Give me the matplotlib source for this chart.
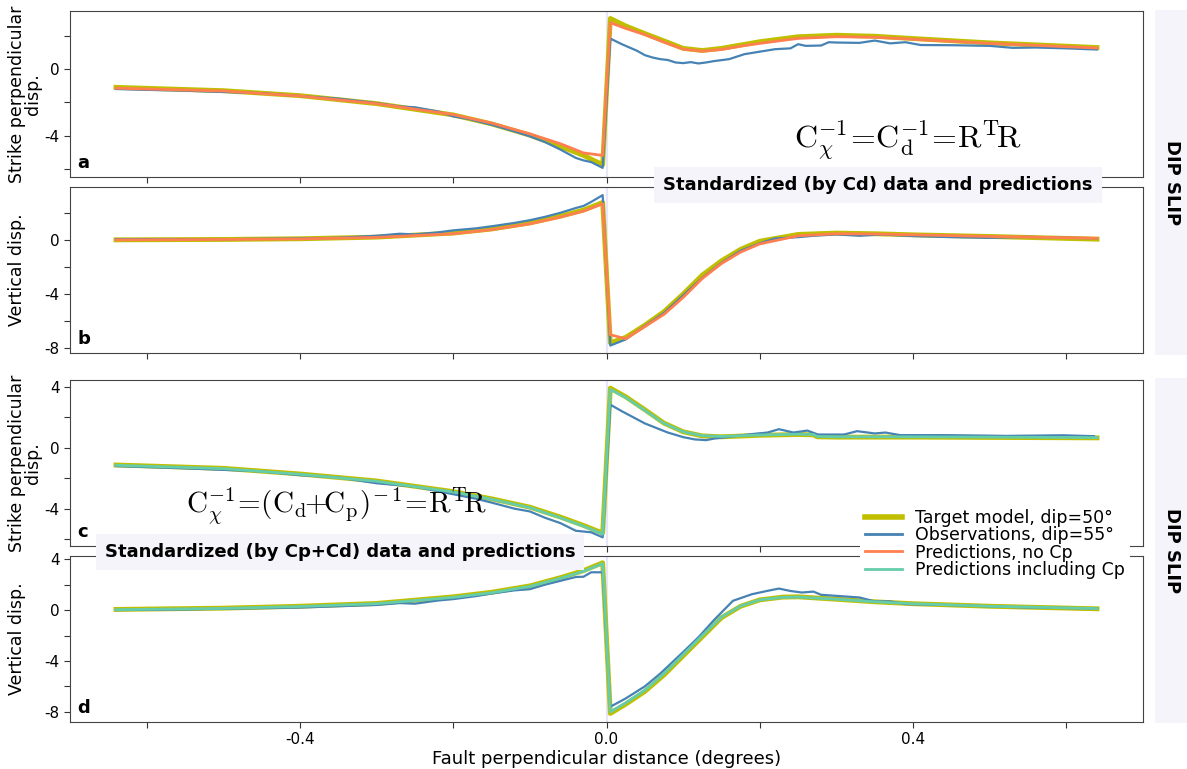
import matplotlib
matplotlib.use("Agg")
import matplotlib.pyplot as plt
from matplotlib.ticker import MultipleLocator
from matplotlib.patches import Rectangle

plt.rcParams['axes.unicode_minus'] = False
plt.rcParams['mathtext.fontset'] = 'cm'

# ---- data ----
# smooth model curves share one grid
x_mod = [-0.64, -0.5, -0.4, -0.3, -0.2, -0.15, -0.1, -0.06, -0.03, -0.005,
         0.005, 0.025, 0.05, 0.075, 0.1, 0.125, 0.15, 0.175, 0.2, 0.25,
         0.3, 0.35, 0.4, 0.5, 0.64]

# panel a: strike perpendicular, standardized by Cd
a_target = [-1.1, -1.3, -1.6, -2.08, -2.76, -3.3, -3.98, -4.66, -5.2, -5.76,
            3.05, 2.6, 2.14, 1.7, 1.25, 1.12, 1.25, 1.45, 1.65, 1.95,
            2.04, 1.98, 1.84, 1.58, 1.3]
a_nocp = [-1.15, -1.32, -1.62, -2.08, -2.74, -3.25, -3.9, -4.5, -5.05, -5.2,
          2.8, 2.45, 2.08, 1.62, 1.2, 1.08, 1.18, 1.38, 1.55, 1.85,
          1.95, 1.92, 1.8, 1.55, 1.27]
x_obs_a = [-0.64, -0.6, -0.55, -0.5, -0.45, -0.4, -0.35, -0.3, -0.27, -0.25,
           -0.22, -0.2, -0.18, -0.15, -0.12, -0.1, -0.08, -0.06, -0.04, -0.03,
           -0.02, -0.005, 0.005, 0.02, 0.04, 0.05, 0.06, 0.07, 0.08, 0.09,
           0.1, 0.11, 0.12, 0.13, 0.14, 0.16, 0.18, 0.2, 0.22, 0.24,
           0.25, 0.26, 0.28, 0.29, 0.3, 0.33, 0.35, 0.37, 0.39, 0.41,
           0.45, 0.5, 0.53, 0.56, 0.6, 0.64]
a_obs = [-1.2, -1.25, -1.3, -1.38, -1.45, -1.62, -1.78, -2.05, -2.25, -2.3,
         -2.55, -2.85, -3.0, -3.35, -3.75, -4.05, -4.4, -4.85, -5.35, -5.5,
         -5.6, -5.95, 1.84, 1.5, 1.1, 0.84, 0.7, 0.6, 0.55, 0.4,
         0.36, 0.42, 0.34, 0.4, 0.48, 0.6, 0.9, 1.05, 1.2, 1.25,
         1.5, 1.4, 1.42, 1.62, 1.6, 1.58, 1.72, 1.55, 1.62, 1.45,
         1.44, 1.4, 1.28, 1.3, 1.25, 1.18]

# panel b: vertical, standardized by Cd
b_target = [0.0, 0.03, 0.08, 0.2, 0.5, 0.8, 1.25, 1.75, 2.2, 2.76,
            -7.6, -7.2, -6.3, -5.3, -4.0, -2.6, -1.55, -0.7, -0.1, 0.4,
            0.5, 0.45, 0.37, 0.25, 0.05]
b_nocp = [0.0, 0.03, 0.07, 0.18, 0.45, 0.75, 1.18, 1.68, 2.12, 2.66,
          -7.0, -7.3, -6.4, -5.5, -4.25, -2.85, -1.75, -0.9, -0.3, 0.3,
          0.45, 0.43, 0.37, 0.25, 0.12]
x_obs_b = [-0.64, -0.5, -0.4, -0.35, -0.3, -0.27, -0.25, -0.22, -0.2, -0.17,
           -0.15, -0.12, -0.1, -0.08, -0.06, -0.04, -0.03, -0.02, -0.005, 0.005,
           0.025, 0.05, 0.075, 0.1, 0.125, 0.15, 0.175, 0.2, 0.22, 0.25,
           0.27, 0.3, 0.33, 0.36, 0.4, 0.45, 0.5, 0.55, 0.6, 0.64]
b_obs = [0.05, 0.05, 0.1, 0.15, 0.3, 0.45, 0.4, 0.55, 0.7, 0.85,
         1.0, 1.25, 1.45, 1.7, 2.0, 2.35, 2.5, 2.8, 3.3, -7.8,
         -7.35, -6.35, -5.4, -4.1, -2.8, -1.7, -0.8, -0.25, 0.1, 0.2,
         0.3, 0.4, 0.3, 0.4, 0.28, 0.2, 0.15, 0.22, 0.15, 0.12]

# panel c: strike perpendicular, standardized by Cp+Cd
x_mod_c = [-0.64, -0.5, -0.4, -0.3, -0.2, -0.15, -0.1, -0.06, -0.03, -0.005,
           0.005, 0.025, 0.05, 0.075, 0.1, 0.125, 0.15, 0.2, 0.25, 0.27,
           0.275, 0.3, 0.4, 0.5, 0.64]
c_target = [-1.13, -1.35, -1.72, -2.18, -2.88, -3.35, -3.9, -4.55, -5.1, -5.6,
            3.92, 3.35, 2.5, 1.62, 1.05, 0.78, 0.72, 0.82, 0.87, 0.85,
            0.72, 0.7, 0.7, 0.68, 0.65]
c_withcp = [-1.15, -1.37, -1.74, -2.2, -2.9, -3.38, -3.93, -4.6, -5.15, -5.66,
            3.83, 3.3, 2.45, 1.6, 1.05, 0.8, 0.74, 0.84, 0.89, 0.87,
            0.74, 0.72, 0.72, 0.7, 0.67]
x_obs_c = [-0.64, -0.55, -0.5, -0.45, -0.4, -0.35, -0.3, -0.25, -0.2, -0.17,
           -0.15, -0.12, -0.1, -0.08, -0.06, -0.04, -0.02, -0.005, 0.005, 0.02,
           0.035, 0.05, 0.065, 0.08, 0.1, 0.115, 0.13, 0.14, 0.165, 0.19,
           0.21, 0.225, 0.244, 0.262, 0.276, 0.31, 0.327, 0.35, 0.364, 0.383,
           0.443, 0.522, 0.596, 0.636]
c_obs = [-1.2, -1.35, -1.45, -1.55, -1.8, -1.95, -2.33, -2.55, -3.05, -3.35,
         -3.6, -4.0, -4.18, -4.6, -4.95, -5.45, -5.55, -5.88, 2.83, 2.4,
         2.0, 1.6, 1.3, 1.0, 0.7, 0.55, 0.5, 0.6, 0.75, 0.9,
         1.0, 1.22, 1.0, 1.13, 0.87, 0.87, 1.09, 0.94, 1.0, 0.83,
         0.83, 0.78, 0.82, 0.76]

# panel d: vertical, standardized by Cp+Cd
x_mod_d = [-0.64, -0.5, -0.4, -0.3, -0.2, -0.15, -0.1, -0.06, -0.03, -0.005,
           0.005, 0.025, 0.05, 0.075, 0.1, 0.125, 0.15, 0.175, 0.2, 0.23,
           0.25, 0.3, 0.35, 0.4, 0.5, 0.64]
d_target = [0.05, 0.15, 0.3, 0.52, 1.04, 1.4, 1.9, 2.55, 3.1, 3.72,
            -8.13, -7.4, -6.4, -5.1, -3.6, -2.1, -0.6, 0.3, 0.8, 1.02,
            1.04, 0.85, 0.65, 0.5, 0.3, 0.1]
d_withcp = [0.03, 0.13, 0.28, 0.5, 1.0, 1.36, 1.86, 2.5, 3.05, 3.65,
            -8.0, -7.3, -6.3, -5.0, -3.5, -2.0, -0.55, 0.32, 0.8, 1.0,
            1.02, 0.85, 0.65, 0.5, 0.3, 0.12]
x_obs_d = [-0.64, -0.55, -0.5, -0.4, -0.35, -0.3, -0.27, -0.25, -0.22, -0.2,
           -0.17, -0.15, -0.12, -0.1, -0.08, -0.06, -0.05, -0.04, -0.03, -0.02,
           -0.005, 0.005, 0.025, 0.05, 0.07, 0.1, 0.12, 0.14, 0.165, 0.19,
           0.21, 0.225, 0.24, 0.255, 0.27, 0.28, 0.33, 0.35, 0.37, 0.39,
           0.45, 0.55, 0.64]
d_obs = [0.0, 0.05, 0.1, 0.2, 0.3, 0.4, 0.55, 0.5, 0.75, 0.86,
         1.1, 1.3, 1.55, 1.64, 2.0, 2.3, 2.45, 2.6, 2.62, 2.97,
         2.97, -7.6, -6.95, -6.0, -5.0, -3.3, -2.14, -0.8, 0.73, 1.25,
         1.51, 1.69, 1.5, 1.38, 1.45, 1.2, 0.99, 0.68, 0.68, 0.47,
         0.39, 0.2, 0.13]

labels = ['Target model, dip=50°', 'Observations, dip=55°',
          'Predictions, no Cp', 'Predictions including Cp']
c_tgt, c_obsc, c_nocp, c_cp = 'y', 'steelblue', 'coral', 'mediumaquamarine'
panel_bg = '#f4f4fa'

fig = plt.figure(figsize=(11.87, 7.69), dpi=100)
W, H = 1187, 769


def add_ax(top, bottom):
    return fig.add_axes([70 / W, 1 - bottom / H, 1073 / W, (bottom - top) / H])


ax_a = add_ax(11, 177)
ax_b = add_ax(187, 353)
ax_c = add_ax(380, 546)
ax_d = add_ax(556, 722)

ylims = {ax_a: (-6.5, 3.5), ax_b: (-8.35, 3.9), ax_c: (-6.45, 4.45), ax_d: (-8.8, 4.25)}
ylabs = {ax_a: 'Strike perpendicular\ndisp.', ax_b: 'Vertical disp.',
         ax_c: 'Strike perpendicular\ndisp.', ax_d: 'Vertical disp.'}

for ax, tag in zip([ax_a, ax_b, ax_c, ax_d], 'abcd'):
    ax.axvline(0, color='lavender', lw=1.5, zorder=0)
    ax.set_xlim(-0.7, 0.7)
    ax.set_ylim(*ylims[ax])
    ax.xaxis.set_major_locator(MultipleLocator(0.4))
    ax.xaxis.set_minor_locator(MultipleLocator(0.2))
    ax.yaxis.set_major_locator(MultipleLocator(4))
    ax.yaxis.set_minor_locator(MultipleLocator(2))
    ax.tick_params(which='both', length=4, width=0.8, labelsize=11, color='#333')
    for s in ax.spines.values():
        s.set_color('#444')
    ax.set_ylabel(ylabs[ax], fontsize=12.5, va='top', linespacing=0.85)
    ax.yaxis.set_label_coords(-0.058, 0.5)
    ax.text(0.007, 0.03, tag, transform=ax.transAxes, fontsize=13,
            fontweight='bold', va='bottom', ha='left')
    if ax is not ax_d:
        ax.tick_params(labelbottom=False)

# panel a
h_t, = ax_a.plot(x_mod, a_target, color=c_tgt, lw=3.5, label=labels[0])
h_o, = ax_a.plot(x_obs_a, a_obs, color=c_obsc, lw=1.6, label=labels[1])
h_n, = ax_a.plot(x_mod, a_nocp, color=c_nocp, lw=2, label=labels[2])
# panel b
ax_b.plot(x_mod, b_target, color=c_tgt, lw=3.5)
ax_b.plot(x_obs_b, b_obs, color=c_obsc, lw=1.6)
ax_b.plot(x_mod, b_nocp, color=c_nocp, lw=2)
# panel c
ax_c.plot(x_mod_c, c_target, color=c_tgt, lw=3.5)
ax_c.plot(x_obs_c, c_obs, color=c_obsc, lw=1.6)
h_c, = ax_c.plot(x_mod_c, c_withcp, color=c_cp, lw=2, label=labels[3])
# panel d
ax_d.plot(x_mod_d, d_target, color=c_tgt, lw=3.5)
ax_d.plot(x_obs_d, d_obs, color=c_obsc, lw=1.6)
ax_d.plot(x_mod_d, d_withcp, color=c_cp, lw=2)

ax_d.set_xlabel('Fault perpendicular distance (degrees)', fontsize=13, labelpad=2)

eq = r'\!=\!'
ax_a.text(0.781, 0.22, r'$\mathrm{C_{\chi}^{-1}' + eq + r'C_{d}^{-1}' + eq + r'R^{T}\!R}$',
          transform=ax_a.transAxes, fontsize=23, ha='center', va='center')
ax_c.text(0.248, 0.245, r'$\mathrm{C_{\chi}^{-1}' + eq + r'(C_{d}\!\!+\!\!C_{p})^{\!-1}' + eq
          + r'R^{T}\!R}$',
          transform=ax_c.transAxes, fontsize=21, ha='center', va='center')

# titles between panels
box = dict(boxstyle='square,pad=0.5', facecolor=panel_bg, edgecolor='none')
fig.text(878 / W, 1 - 185 / H, 'Standardized (by Cd) data and predictions',
         fontsize=13, fontweight='bold', ha='center', va='center', bbox=box)
fig.text(340 / W, 1 - 552 / H, 'Standardized (by Cp+Cd) data and predictions',
         fontsize=13, fontweight='bold', ha='center', va='center', bbox=box)

# right-hand side strips
for top, bottom in [(10, 355), (378, 723)]:
    fig.patches.append(Rectangle((1155 / W, 1 - bottom / H), 32 / W, (bottom - top) / H,
                                 transform=fig.transFigure, facecolor=panel_bg,
                                 edgecolor='none', zorder=0))
    fig.text(1172 / W, 1 - (top + bottom) / 2 / H, 'DIP SLIP', rotation=270,
             fontsize=13, fontweight='bold', ha='center', va='center')

leg = fig.legend([h_t, h_o, h_n, h_c], labels, loc='center',
                 bbox_to_anchor=(995 / W, 1 - 544 / H), fontsize=12.5,
                 frameon=True, facecolor='white', edgecolor='none', framealpha=1,
                 fancybox=False, handlelength=2.1, handletextpad=0.75,
                 labelspacing=-0.05, borderpad=0.3)
for line in leg.get_lines():
    line.set_linewidth(2)
leg.get_lines()[0].set_linewidth(4)

fig.savefig('out.png', dpi=100)
